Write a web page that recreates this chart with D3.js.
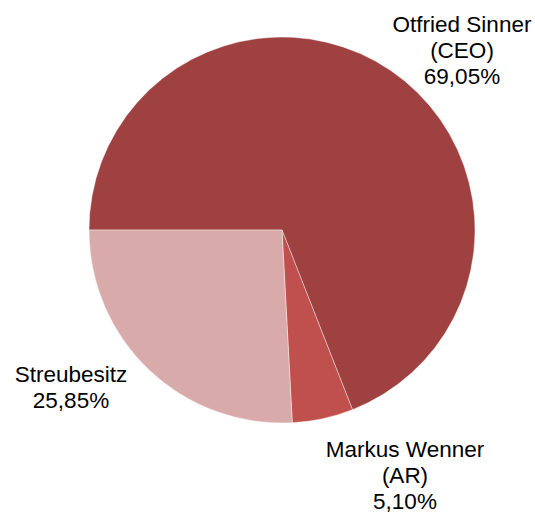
<!DOCTYPE html>
<html>
<head>
<meta charset="utf-8">
<script src="https://cdn.jsdelivr.net/npm/d3@7"></script>
<style>
  body { margin: 0; background: #fff; }
  text { font-family: "Liberation Sans", Arial, sans-serif; font-size: 22.5px; fill: #000; }
</style>
</head>
<body>
<div id="chart-area"></div>
<script>
var width = 535, height = 514;

// Data
var names = ["Otfried Sinner\n(CEO)", "Markus Wenner\n(AR)", "Streubesitz"];
var shares = [69.05, 5.10, 25.85];
var colors = ["#9E4140", "#C0504D", "#D9AAAA"];

var svg = d3.select("#chart-area").append("svg")
    .attr("width", width)
    .attr("height", height);

var cx = 282, cy = 230, radius = 193;

var g = svg.append("g")
    .attr("transform", "translate(" + cx + "," + cy + ")");

// Pie starts at 9 o'clock, clockwise
var pie = d3.pie()
    .sort(null)
    .startAngle(-Math.PI / 2)
    .endAngle(3 * Math.PI / 2)
    .value((d) => { return d; });

var arc = d3.arc().innerRadius(0).outerRadius(radius);

var arcs = pie(shares);

g.selectAll("path")
    .data(arcs)
    .enter().append("path")
    .attr("d", arc)
    .attr("fill", (d, i) => { return colors[i]; })
    .attr("stroke", "#fff")
    .attr("stroke-width", 0.4);

// Labels (outside ends), positioned in svg coords
var labelPos = [[462, 32], [405, 457], [71, 382]];
var lineH = 26;

names.forEach((n, i) => {
    var lines = n.split("\n").concat([d3.format(".2f")(shares[i]).replace(".", ",") + "%"]);
    var t = svg.append("text")
        .attr("text-anchor", "middle")
        .attr("x", labelPos[i][0])
        .attr("y", labelPos[i][1]);
    lines.forEach((l, j) => {
        t.append("tspan")
            .attr("x", labelPos[i][0])
            .attr("dy", j === 0 ? 0 : lineH)
            .text(l);
    });
});
</script>
</body>
</html>
